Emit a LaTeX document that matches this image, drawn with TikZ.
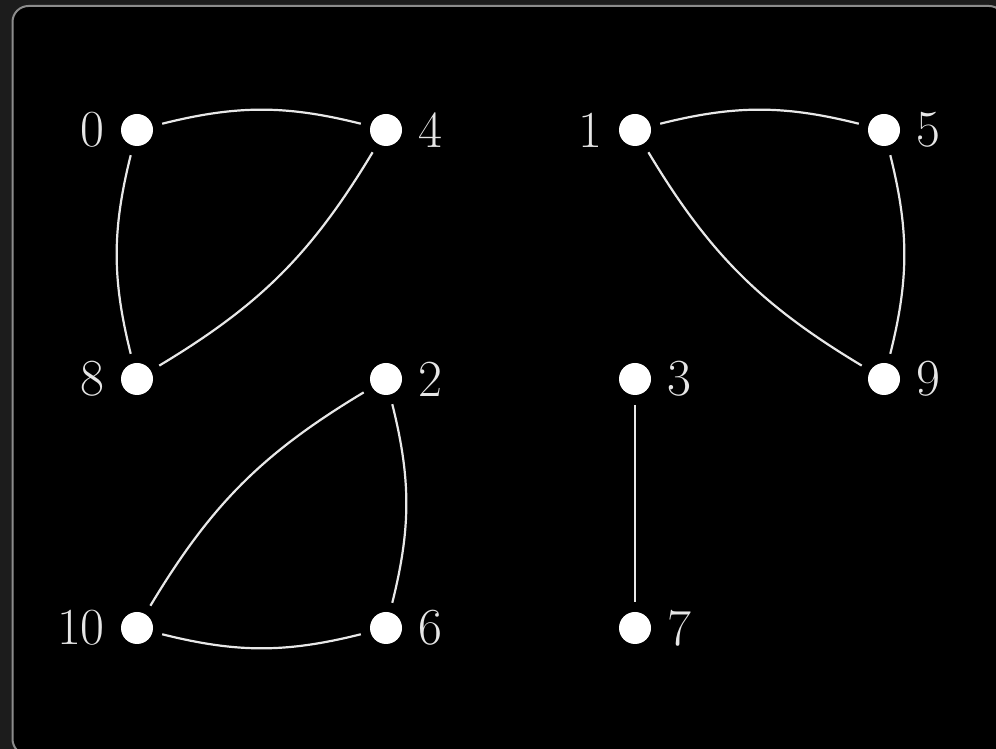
\documentclass[tikz,border=0pt]{standalone}
\usepackage{fontspec}
\definecolor{outerbg}{HTML}{1C1C1C}
\definecolor{framecol}{HTML}{8C8C8C}
\definecolor{edgecol}{HTML}{E8E8E8}
\definecolor{labcol}{HTML}{E6E6E6}
\begin{document}
\begin{tikzpicture}[x=1pt,y=1pt,
  vert/.style={circle,fill=white,draw=none,minimum size=32pt,inner sep=0pt,outer sep=10pt},
  edge/.style={draw=edgecol,line width=2.2pt},
  lbl/.style={text=labcol,inner sep=0pt,font=\fontsize{52}{60}\selectfont},
  ll/.style={label={[lbl,label distance=6pt]left:#1}},
  lr/.style={label={[lbl,label distance=6pt]right:#1}}]
\useasboundingbox (0,0) rectangle (996,749);
\fill[outerbg] (0,0) rectangle (996,749);
\draw[framecol, line width=2pt, fill=black, rounded corners=16pt] (12.5,-6) rectangle (1005,743);
% vertices
\node[vert,ll=0]  (n0)  at (137,619) {};
\node[vert,lr=4]  (n4)  at (386,619) {};
\node[vert,ll=1]  (n1)  at (635,619) {};
\node[vert,lr=5]  (n5)  at (884,619) {};
\node[vert,ll=8]  (n8)  at (137,370) {};
\node[vert,lr=2]  (n2)  at (386,370) {};
\node[vert,lr=3]  (n3)  at (635,370) {};
\node[vert,lr=9]  (n9)  at (884,370) {};
\node[vert,ll=10] (n10) at (137,121) {};
\node[vert,lr=6]  (n6)  at (386,121) {};
\node[vert,lr=7]  (n7)  at (635,121) {};
% edges
\path[edge] (n0) to[bend left=14] (n4);
\path[edge] (n0) to[bend right=14] (n8);
\path[edge] (n8) to[bend right=14] (n4);
\path[edge] (n1) to[bend left=14] (n5);
\path[edge] (n5) to[bend left=14] (n9);
\path[edge] (n1) to[bend right=14] (n9);
\path[edge] (n10) to[bend left=14] (n2);
\path[edge] (n2) to[bend left=14] (n6);
\path[edge] (n10) to[bend right=14] (n6);
\path[edge] (n3) -- (n7);
\end{tikzpicture}
\end{document}
